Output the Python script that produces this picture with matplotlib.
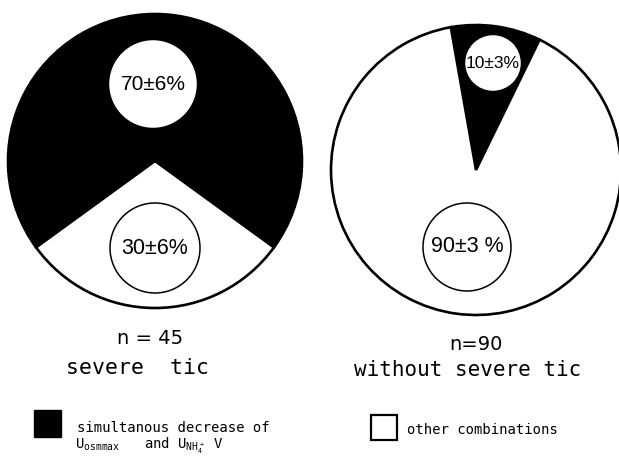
import matplotlib.pyplot as plt
from matplotlib.patches import Circle, Rectangle

# datos
grupos = ["severe tic", "without severe tic"]
n_pacientes = [45, 90]
simultaneo = [70, 10]     # % disminucion simultanea
otros = [30, 90]          # % otras combinaciones
error_sim = [6, 3]
error_otr = [6, 3]
colores = ["black", "white"]

plt.rcParams['mathtext.fontset'] = 'custom'
plt.rcParams['mathtext.rm'] = 'DejaVu Sans Mono'

W, H = 619, 459
fig = plt.figure(figsize=(W / 100, H / 100), dpi=100)
ax = fig.add_axes([0, 0, 1, 1])


def yy(y):
    # pasar de pixeles (desde arriba) a coordenadas del eje
    return H - y


centros = [(155, yy(161)), (476, yy(170))]
radios = [147, 145]
inicios = [-36, 64]

for i in range(2):
    ax.pie([simultaneo[i], otros[i]], colors=colores, startangle=inicios[i],
           center=centros[i], radius=radios[i], frame=True,
           wedgeprops=dict(edgecolor="black", linewidth=1.9))

# circulos con las etiquetas
circ = [
    ((153, 84), 43, False, f"{simultaneo[0]}±{error_sim[0]}%", 15),
    ((155, 248), 45, True, f"{otros[0]}±{error_otr[0]}%", 15.5),
    ((493, 63), 27, False, f"{simultaneo[1]}±{error_sim[1]}%", 12.5),
    ((467, 247), 44, True, f"{otros[1]}±{error_otr[1]} %", 15.5),
]
for (cx, cy), r, borde, txt, fs in circ:
    ax.add_patch(Circle((cx, yy(cy)), r, facecolor="white",
                        edgecolor="black" if borde else "white",
                        linewidth=1.1, zorder=3))
    ax.text(cx, yy(cy), txt, ha="center", va="center", fontsize=fs,
            family="Liberation Sans", zorder=4)

# textos de abajo
ax.text(150, yy(339), f"n = {n_pacientes[0]}", ha="center", va="center",
        fontsize=14, family="DejaVu Sans")
ax.text(138, yy(368), "severe  tic", ha="center", va="center",
        fontsize=15.5, family="DejaVu Sans Mono")
ax.text(476, yy(345), f"n={n_pacientes[1]}", ha="center", va="center",
        fontsize=14, family="DejaVu Sans")
ax.text(468, yy(370), "without severe tic", ha="center", va="center",
        fontsize=15, family="DejaVu Sans Mono")

# leyenda
ax.add_patch(Rectangle((34, yy(437)), 27, 27, facecolor="black", edgecolor="black"))
ax.text(77, yy(428), "simultanous decrease of", ha="left", va="center",
        fontsize=10, family="DejaVu Sans Mono")
ax.text(75, yy(446), r"U$_{\mathrm{osmmax}}$   and U$_{\mathrm{NH}_4^+}$ V",
        ha="left", va="center", fontsize=10, family="DejaVu Sans Mono")
ax.add_patch(Rectangle((371, yy(440)), 26, 25, facecolor="white",
                       edgecolor="black", linewidth=1.6))
ax.text(407, yy(430), "other combinations", ha="left", va="center",
        fontsize=10, family="DejaVu Sans Mono")

ax.set_autoscale_on(False)
ax.set_xlim(0, W)
ax.set_ylim(0, H)
ax.axis("off")

plt.savefig("out.png", dpi=100)
